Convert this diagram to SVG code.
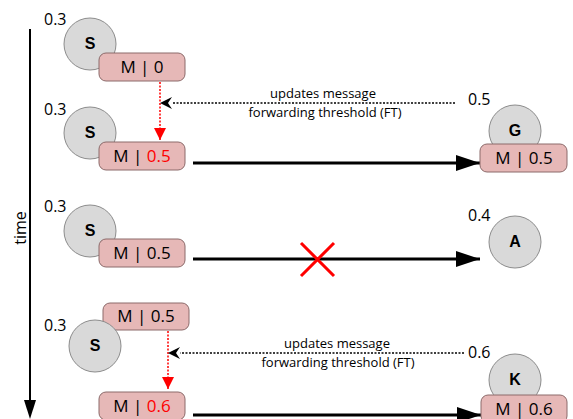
<svg xmlns="http://www.w3.org/2000/svg" width="573" height="419" viewBox="0 0 573 419">
<defs>
<style>
.circ{fill:#d9d9d9;stroke:#8c8c8c;stroke-width:1}
.msg{fill:#e6b8b7;stroke:#8c6a6a;stroke-width:1}
.t{font-family:"Open Sans","Liberation Sans",sans-serif;fill:#000}
.mt{font-size:17px;text-anchor:middle}
.nl{font-size:16px}
.lbl{font-family:"Liberation Sans",Arial,sans-serif;font-size:16px;font-weight:bold;text-anchor:middle;fill:#000}
.cap{font-size:13px;text-anchor:middle}
.red{fill:#ff0000}
.solid{stroke:#000;stroke-width:3;fill:none}
.dot{stroke:#000;stroke-width:1.5;stroke-dasharray:2 1.5;fill:none}
.rdot{stroke:#ff0000;stroke-width:1.5;stroke-dasharray:2 1.5;fill:none}
</style>
<marker id="ah" markerWidth="24" markerHeight="16" refX="24" refY="8" orient="auto" markerUnits="userSpaceOnUse" viewBox="0 0 24 16"><path d="M0,0 L24,8 L0,16 z" fill="#000"/></marker>
<marker id="ar" markerWidth="12" markerHeight="12" refX="12" refY="6" orient="auto" markerUnits="userSpaceOnUse" viewBox="0 0 12 12"><path d="M0,0 L12,6 L0,12 z" fill="#ff0000"/></marker>
</defs>

<g id="timeline">
<line x1="30" y1="29" x2="30" y2="400" stroke="#000" stroke-width="2"/>
<path d="M24,400 L36,400 L30,419 z" fill="#000"/>
<text class="t" font-size="16" text-anchor="middle" transform="translate(26,228) rotate(-90)">time</text>
</g>

<g id="connectors">
<line class="rdot" x1="160" y1="82" x2="160" y2="140" marker-end="url(#ar)"/>
<line class="dot" x1="455" y1="103" x2="172" y2="103"/>
<path d="M172,97 L160,103 L172,109 L168,103 z" fill="#000"/>
<line class="solid" x1="193" y1="163" x2="480" y2="163" marker-end="url(#ah)"/>
<line class="solid" x1="193" y1="259" x2="480" y2="259" marker-end="url(#ah)"/>
<path d="M301,243 L334,276 M334,243 L301,276" stroke="#ff0000" stroke-width="3" fill="none"/>
<line class="rdot" x1="168" y1="331" x2="168" y2="389" marker-end="url(#ar)"/>
<line class="dot" x1="464" y1="353" x2="180" y2="353"/>
<path d="M180,347 L168,353 L180,359 L176,353 z" fill="#000"/>
<line class="solid" x1="193" y1="415" x2="481" y2="415" marker-end="url(#ah)"/>
</g>

<g id="labels">
<text class="t cap" x="323" y="98">updates message</text>
<text class="t cap" x="325" y="117">forwarding threshold (FT)</text>
<text class="t cap" x="337" y="348">updates message</text>
<text class="t cap" x="338" y="367">forwarding threshold (FT)</text>
</g>

<g id="S1">
<text class="t nl" x="44" y="25">0.3</text>
<circle class="circ" cx="90" cy="44" r="26"/>
<text class="lbl" x="90" y="49">S</text>
<rect class="msg" x="99" y="53" width="86" height="28" rx="7"/>
<text class="t mt" x="142" y="73">M |  0</text>
</g>

<g id="S2">
<text class="t nl" x="44" y="115">0.3</text>
<circle class="circ" cx="90" cy="133" r="26"/>
<text class="lbl" x="90" y="138">S</text>
<rect class="msg" x="99" y="142" width="86" height="28" rx="7"/>
<text class="t mt" x="142" y="162">M | <tspan class="red">0.5</tspan></text>
</g>

<g id="G">
<text class="t nl" x="468" y="105">0.5</text>
<circle class="circ" cx="515" cy="131" r="26"/>
<text class="lbl" x="515" y="136">G</text>
<rect class="msg" x="480" y="144" width="87" height="28" rx="7"/>
<text class="t mt" x="524" y="164">M | 0.5</text>
</g>

<g id="S3">
<text class="t nl" x="44" y="212">0.3</text>
<circle class="circ" cx="90" cy="231" r="26"/>
<text class="lbl" x="90" y="236">S</text>
<rect class="msg" x="99" y="239" width="86" height="28" rx="7"/>
<text class="t mt" x="142" y="259">M | 0.5</text>
</g>

<g id="A">
<text class="t nl" x="468" y="221">0.4</text>
<circle class="circ" cx="515" cy="242" r="26"/>
<text class="lbl" x="515" y="247">A</text>
</g>

<g id="S4">
<rect class="msg" x="103" y="303" width="86" height="27" rx="7"/>
<text class="t mt" x="146" y="322">M | 0.5</text>
<text class="t nl" x="44" y="331">0.3</text>
<circle class="circ" cx="95" cy="346" r="26"/>
<text class="lbl" x="95" y="351">S</text>
<rect class="msg" x="99" y="392" width="86" height="28" rx="7"/>
<text class="t mt" x="142" y="412">M | <tspan class="red">0.6</tspan></text>
</g>

<g id="K">
<text class="t nl" x="468" y="358">0.6</text>
<circle class="circ" cx="515" cy="380" r="26"/>
<text class="lbl" x="515" y="385">K</text>
<rect class="msg" x="481" y="395" width="86" height="28" rx="7"/>
<text class="t mt" x="524" y="415">M | 0.6</text>
</g>
</svg>
